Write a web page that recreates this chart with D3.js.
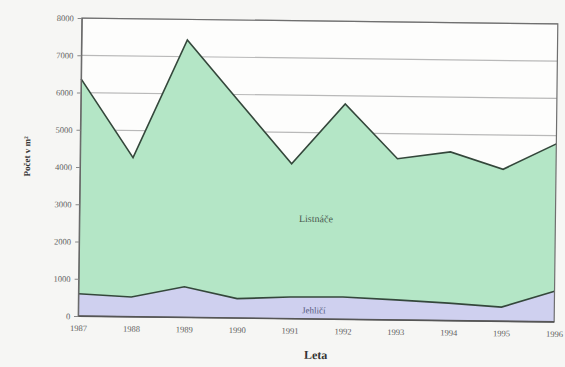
<!DOCTYPE html>
<html>
<head>
<meta charset="utf-8">
<script src="https://cdn.jsdelivr.net/npm/d3@7"></script>
<style>
  html, body { margin: 0; padding: 0; background: #f6f6f4; }
  svg { display: block; }
  text { font-family: "Liberation Serif", "DejaVu Serif", serif; }
</style>
</head>
<body>
<div id="chart"></div>
<script>
// Roky sledování
const years = [1987, 1988, 1989, 1990, 1991, 1992, 1993, 1994, 1995, 1996];
// Jehličnaté dřeviny (spodní vrstva)
const jehlici = [600, 530, 820, 520, 580, 600, 540, 470, 380, 820];
// Listnaté dřeviny (vrstva nad jehličnany)
const listnace = [5770, 3740, 6630, 5280, 3580, 5180, 3790, 4060, 3700, 3960];
const yTicks = [0, 1000, 2000, 3000, 4000, 5000, 6000, 7000, 8000];
const seriesNames = ["Jehličí", "Listnáče"];

const W = 565, H = 367;
const m = { left: 80, right: 9, top: 21, bottom: 48 };
const pw = W - m.left - m.right, ph = H - m.top - m.bottom;

const svg = d3.select("#chart").append("svg").attr("width", W).attr("height", H);
svg.append("rect").attr("width", W).attr("height", H).attr("fill", "#f6f6f4");

// whole chart sits slightly tilted
const root = svg.append("g")
  .attr("transform", `rotate(0.7, ${m.left + pw / 2}, ${m.top + ph / 2})`);
const g = root.append("g").attr("transform", `translate(${m.left},${m.top})`);

const x = d3.scalePoint().domain(years).range([0, pw]);
const y = d3.scaleLinear().domain([0, 8000]).range([ph, 0]);

const table = years.map((yr, i) => ({ year: yr, "Jehličí": jehlici[i], "Listnáče": listnace[i] }));
const stacked = d3.stack().keys(seriesNames)(table);

g.append("rect").attr("width", pw).attr("height", ph).attr("fill", "#fdfdfc");

// grid
g.selectAll(".grid").data(yTicks).join("line")
  .attr("x1", 0).attr("x2", pw)
  .attr("y1", d => y(d)).attr("y2", d => y(d))
  .attr("stroke", "#b9b9b9").attr("stroke-width", 1.2);

const area = d3.area()
  .x(d => x(d.data.year))
  .y0(d => y(d[0]))
  .y1(d => y(d[1]));
const line = d3.line()
  .x(d => x(d.data.year))
  .y(d => y(d[1]));

const fills = ["#cfd0ef", "#b4e6c6"];
g.selectAll(".layer").data(stacked).join("path")
  .attr("d", area).attr("fill", (d, i) => fills[i]);
g.selectAll(".edge").data(stacked).join("path")
  .attr("d", line).attr("fill", "none")
  .attr("stroke", "#34473b").attr("stroke-width", 1.6);

// frame
g.append("rect").attr("width", pw).attr("height", ph)
  .attr("fill", "none").attr("stroke", "#6f6f6f").attr("stroke-width", 1.2);
g.append("line").attr("x1", 0).attr("x2", pw).attr("y1", ph).attr("y2", ph)
  .attr("stroke", "#555").attr("stroke-width", 1.6);

// axes
const yAxis = d3.axisLeft(y).tickValues(yTicks).tickFormat(d3.format("d"))
  .tickSize(4).tickPadding(4);
const ya = g.append("g").call(yAxis);
ya.select(".domain").attr("stroke", "#666");
ya.selectAll(".tick line").attr("stroke", "#888");
ya.selectAll("text").attr("font-size", 8.5).attr("fill", "#5e5e5e")
  .attr("font-family", "Liberation Serif, serif");

const xAxis = d3.axisBottom(x).tickSize(0).tickPadding(9);
const xa = g.append("g").attr("transform", `translate(0,${ph})`).call(xAxis);
xa.select(".domain").remove();
xa.selectAll("text").attr("font-size", 8.5).attr("fill", "#5e5e5e")
  .attr("font-family", "Liberation Serif, serif");

// layer labels
g.append("text").attr("x", x(1991) + 25).attr("y", y(2600))
  .attr("text-anchor", "middle").attr("font-size", 10).attr("fill", "#4a5a50")
  .text(seriesNames[1]);
g.append("text").attr("x", x(1991) + 24).attr("y", y(150))
  .attr("text-anchor", "middle").attr("font-size", 9).attr("fill", "#555a80")
  .text(seriesNames[0]);

// axis titles
root.append("text").attr("x", m.left + pw / 2).attr("y", H - 8)
  .attr("text-anchor", "middle").attr("font-size", 12).attr("font-weight", "bold")
  .attr("fill", "#333").text("Leta");
root.append("text")
  .attr("transform", `translate(30,${m.top + ph / 2 - 10}) rotate(-90)`)
  .attr("text-anchor", "middle").attr("font-size", 9).attr("font-weight", "bold")
  .attr("fill", "#333").text("Počet v m²");
</script>
</body>
</html>
